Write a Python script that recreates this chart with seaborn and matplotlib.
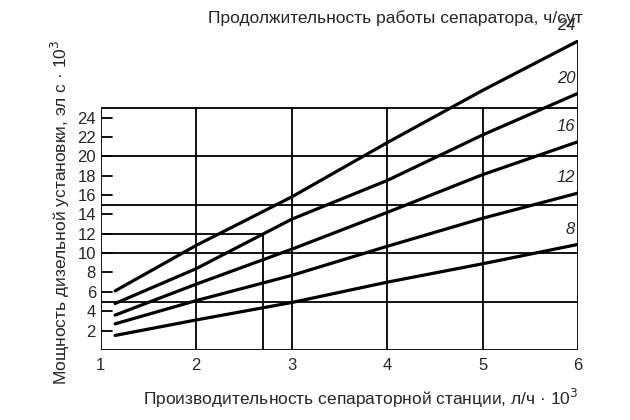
import matplotlib
matplotlib.use("Agg")
import matplotlib.pyplot as plt
import seaborn as sns
import pandas as pd

sns.set_style("white")
plt.rcParams["font.family"] = ["Liberation Sans", "DejaVu Sans"]

# === Data ===
x_vals = [1.15, 2, 3, 4, 5, 6]
hours = ["8", "12", "16", "20", "24"]
power_8 = [1.5, 3.1, 4.9, 7.0, 8.9, 10.9]
power_12 = [2.7, 5.1, 7.7, 10.7, 13.6, 16.2]
power_16 = [3.6, 6.8, 10.4, 14.2, 18.1, 21.5]
power_20 = [4.8, 8.4, 13.5, 17.5, 22.2, 26.5]
power_24 = [6.1, 10.8, 15.8, 21.4, 26.8, 31.9]
y_ticks = [2, 4, 6, 8, 10, 12, 14, 16, 18, 20, 22, 24]

series = [power_8, power_12, power_16, power_20, power_24]
rows = []
for h, vals in zip(hours, series):
    for x, y in zip(x_vals, vals):
        rows.append({"x": x, "y": y, "h": h})
df = pd.DataFrame(rows)

fig = plt.figure(figsize=(6.3, 4.2), dpi=100)
ax = fig.add_axes([0.16, 0.1667, 0.7575, 0.738])

sns.lineplot(data=df, x="x", y="y", units="h", estimator=None,
             color="black", lw=2.3, ax=ax)

# === Grid box ===
lk = dict(color="black", lw=1.3)
for gx in [2, 3, 4, 5]:
    ax.plot([gx, gx], [0, 25], **lk)
for gy in [5, 10, 15, 20, 25]:
    ax.plot([1, 6], [gy, gy], **lk)
ax.plot([1, 1], [0, 25], **lk)
ax.plot([1, 6], [0, 0], **lk)
ax.plot([6, 6], [0, 32], **lk)
ax.plot([1, 2.7], [12, 12], **lk)
ax.plot([2.7, 2.7], [0, 12], **lk)
for t in y_ticks:
    ax.plot([1, 1.12], [t, t], **lk)

for h, vals in zip(hours, series):
    ax.text(5.97, vals[-1] + 0.8, h, ha="right", va="bottom",
            fontsize=12, style="italic")

for s in ax.spines.values():
    s.set_visible(False)
ax.set_xlim(1, 6)
ax.set_ylim(0, 32)
ax.set_xticks([1, 2, 3, 4, 5, 6])
ax.set_yticks(y_ticks)
ax.tick_params(length=0, labelsize=12)
ax.tick_params(axis="x", pad=6)
ax.set_xlabel("Производительность сепараторной станции, л/ч · 10$^3$",
              fontsize=12.5, labelpad=10, loc="right")
ax.set_ylabel("Мощность дизельной установки, эл с · 10$^3$",
              fontsize=12.5, loc="top", labelpad=4)
fig.text(0.925, 0.945, "Продолжительность работы сепаратора, ч/сут",
         ha="right", fontsize=12.5)

fig.savefig("out.png", dpi=100)
